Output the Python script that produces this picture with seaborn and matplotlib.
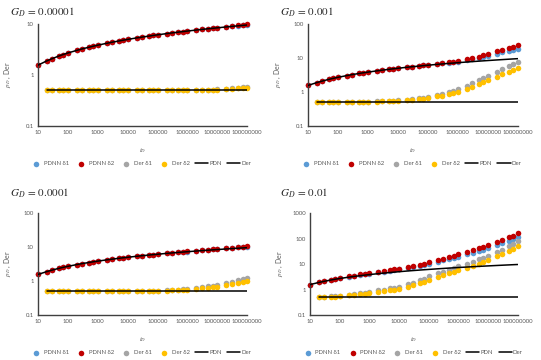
import matplotlib
matplotlib.use("Agg")
import matplotlib.pyplot as plt
import seaborn as sns

# dimensionless time (same sampling for every panel)
T = [10, 20, 30, 50, 70,
     100, 200, 300, 500, 700,
     1e3, 2e3, 3e3, 5e3, 7e3,
     1e4, 2e4, 3e4, 5e4, 7e4,
     1e5, 2e5, 3e5, 5e5, 7e5,
     1e6, 2e6, 3e6, 5e6, 7e6,
     1e7, 2e7, 3e7, 5e7, 7e7,
     1e8]
T_DER = T[1:]

# reference solutions (black lines)
PDN = [1.56, 1.90, 2.10, 2.36, 2.53,
       2.71, 3.05, 3.26, 3.51, 3.68,
       3.86, 4.20, 4.41, 4.66, 4.83,
       5.01, 5.36, 5.56, 5.81, 5.98,
       6.16, 6.51, 6.71, 6.97, 7.13,
       7.31, 7.66, 7.86, 8.12, 8.28,
       8.46, 8.81, 9.01, 9.27, 9.44,
       9.61]
DER_T = [20, 1e8]
DER_V = [0.5, 0.5]

# ---- G_D = 0.00001 ----
G1_PDNN_D1 = [1.56, 1.90, 2.10, 2.36, 2.53,
              2.71, 3.05, 3.26, 3.51, 3.68,
              3.86, 4.20, 4.41, 4.66, 4.83,
              5.01, 5.36, 5.56, 5.81, 5.98,
              6.16, 6.51, 6.71, 6.97, 7.14,
              7.32, 7.68, 7.89, 8.16, 8.33,
              8.52, 8.89, 9.11, 9.39, 9.58,
              9.78]
G1_PDNN_D2 = [1.56, 1.90, 2.10, 2.36, 2.53,
              2.71, 3.05, 3.26, 3.51, 3.68,
              3.86, 4.20, 4.41, 4.66, 4.83,
              5.01, 5.36, 5.56, 5.81, 5.98,
              6.16, 6.51, 6.72, 6.98, 7.15,
              7.33, 7.70, 7.91, 8.18, 8.36,
              8.55, 8.93, 9.16, 9.45, 9.65,
              9.85]
G1_DER_D1 = [0.50, 0.50, 0.50, 0.50,
             0.50, 0.50, 0.50, 0.50, 0.50,
             0.50, 0.50, 0.50, 0.50, 0.50,
             0.50, 0.50, 0.50, 0.50, 0.50,
             0.50, 0.50, 0.50, 0.50, 0.50,
             0.505, 0.51, 0.51, 0.52, 0.52,
             0.53, 0.54, 0.55, 0.56, 0.57,
             0.58]
G1_DER_D2 = [0.50, 0.50, 0.50, 0.50,
             0.50, 0.50, 0.50, 0.50, 0.50,
             0.50, 0.50, 0.50, 0.50, 0.50,
             0.50, 0.50, 0.50, 0.50, 0.50,
             0.50, 0.50, 0.50, 0.50, 0.50,
             0.50, 0.505, 0.51, 0.51, 0.515,
             0.52, 0.53, 0.54, 0.55, 0.555,
             0.565]

# ---- G_D = 0.001 ----
G2_PDNN_D1 = [1.56, 1.90, 2.10, 2.36, 2.53,
              2.71, 3.05, 3.26, 3.52, 3.69,
              3.87, 4.21, 4.42, 4.68, 4.85,
              5.04, 5.40, 5.61, 5.88, 6.06,
              6.28, 6.70, 6.98, 7.32, 7.57,
              7.82, 8.65, 9.25, 10.1, 10.9,
              11.8, 13.5, 14.7, 16.2, 17.4,
              18.6]
G2_PDNN_D2 = [1.56, 1.90, 2.10, 2.36, 2.53,
              2.71, 3.05, 3.26, 3.52, 3.69,
              3.87, 4.22, 4.43, 4.69, 4.87,
              5.06, 5.43, 5.65, 5.93, 6.12,
              6.35, 6.80, 7.10, 7.50, 7.80,
              8.10, 9.10, 9.80, 11.0, 12.0,
              13.5, 15.8, 17.4, 19.8, 21.6,
              24.0]
G2_DER_D1 = [0.50, 0.50, 0.50, 0.50,
             0.50, 0.50, 0.51, 0.51, 0.52,
             0.52, 0.53, 0.54, 0.55, 0.56,
             0.57, 0.60, 0.62, 0.66, 0.69,
             0.73, 0.82, 0.89, 1.00, 1.10,
             1.22, 1.55, 1.80, 2.20, 2.55,
             3.00, 4.00, 4.70, 5.80, 6.70,
             7.60]
G2_DER_D2 = [0.50, 0.50, 0.50, 0.50,
             0.50, 0.50, 0.50, 0.51, 0.51,
             0.51, 0.52, 0.53, 0.54, 0.54,
             0.55, 0.57, 0.59, 0.62, 0.64,
             0.67, 0.74, 0.79, 0.87, 0.94,
             1.02, 1.25, 1.42, 1.70, 1.92,
             2.20, 2.85, 3.30, 4.00, 4.50,
             5.10]

# ---- G_D = 0.0001 ----
G3_PDNN_D1 = [1.56, 1.90, 2.10, 2.36, 2.53,
              2.71, 3.05, 3.26, 3.51, 3.68,
              3.86, 4.20, 4.41, 4.66, 4.83,
              5.02, 5.37, 5.57, 5.83, 6.00,
              6.19, 6.55, 6.76, 7.03, 7.21,
              7.40, 7.78, 8.00, 8.30, 8.50,
              8.70, 9.15, 9.42, 9.80, 10.05,
              10.4]
G3_PDNN_D2 = [1.56, 1.90, 2.10, 2.36, 2.53,
              2.71, 3.05, 3.26, 3.51, 3.68,
              3.86, 4.20, 4.41, 4.66, 4.83,
              5.02, 5.38, 5.58, 5.84, 6.02,
              6.20, 6.56, 6.78, 7.05, 7.23,
              7.43, 7.82, 8.05, 8.37, 8.58,
              8.80, 9.30, 9.60, 10.0, 10.3,
              10.7]
G3_DER_D1 = [0.50, 0.50, 0.50, 0.50,
             0.50, 0.50, 0.50, 0.50, 0.50,
             0.50, 0.50, 0.50, 0.50, 0.50,
             0.505, 0.51, 0.51, 0.515, 0.52,
             0.52, 0.53, 0.54, 0.56, 0.57,
             0.59, 0.63, 0.66, 0.70, 0.73,
             0.77, 0.87, 0.94, 1.05, 1.15,
             1.27]
G3_DER_D2 = [0.50, 0.50, 0.50, 0.50,
             0.50, 0.50, 0.50, 0.50, 0.50,
             0.50, 0.50, 0.50, 0.50, 0.50,
             0.50, 0.50, 0.505, 0.51, 0.51,
             0.51, 0.52, 0.53, 0.54, 0.55,
             0.56, 0.59, 0.61, 0.64, 0.66,
             0.69, 0.76, 0.81, 0.88, 0.94,
             1.00]

# ---- G_D = 0.01 ----
G4_PDNN_D1 = [1.56, 1.92, 2.13, 2.42, 2.60,
              2.80, 3.20, 3.42, 3.75, 3.98,
              4.25, 4.80, 5.10, 5.55, 5.85,
              6.20, 7.00, 7.60, 8.60, 9.40,
              10.5, 12.6, 14.0, 16.0, 17.6,
              19.5, 24.0, 27.5, 33.0, 37.0,
              43.0, 56.0, 66.0, 82.0, 95.0,
              112]
G4_PDNN_D2 = [1.56, 1.93, 2.15, 2.45, 2.63,
              2.85, 3.25, 3.50, 3.95, 4.20,
              4.50, 5.10, 5.45, 5.90, 6.20,
              6.60, 7.40, 8.10, 9.30, 10.3,
              11.8, 14.5, 16.3, 19.0, 21.0,
              24.0, 30.0, 35.0, 42.0, 48.0,
              56.0, 75.0, 90.0, 113, 132,
              160]
G4_DER_D1 = [0.52, 0.53, 0.55, 0.56,
             0.58, 0.63, 0.67, 0.72, 0.76,
             0.82, 0.92, 0.99, 1.10, 1.17,
             1.27, 1.60, 1.85, 2.30, 2.70,
             3.30, 4.30, 5.00, 6.10, 7.00,
             8.20, 10.5, 12.3, 15.2, 17.7,
             21.0, 30.0, 37.0, 50.0, 61.0,
             77.0]
G4_DER_D2 = [0.50, 0.51, 0.52, 0.53,
             0.55, 0.59, 0.62, 0.66, 0.69,
             0.74, 0.82, 0.87, 0.95, 1.00,
             1.07, 1.30, 1.48, 1.80, 2.05,
             2.40, 3.10, 3.60, 4.30, 4.90,
             5.60, 7.20, 8.40, 10.3, 11.9,
             14.3, 20.0, 24.5, 32.0, 39.0,
             49.0]

X_TICKS = [10, 100, 1000, 10000, 100000, 1000000, 10000000, 100000000]
X_LABELS = ["10", "100", "1000", "10000", "100000", "1000000",
            "10000000", "100000000"]

TITLES = ["0.00001", "0.001", "0.0001", "0.01"]
Y_MAX = [10, 100, 100, 1000]

BLUE = "#5B9BD5"
RED = "#C00000"
GREY = "#A5A5A5"
YELLOW = "#FFC000"
TXT = "#595959"

sns.set_style("white")
plt.rcParams["font.family"] = ["Lato", "DejaVu Sans"]
plt.rcParams["mathtext.fontset"] = "stix"

fig = plt.figure(figsize=(5.41, 3.6), dpi=100)

# axes boxes in figure fractions (left, bottom, width, height)
boxes = [(0.070, 0.650, 0.387, 0.283),
         (0.569, 0.650, 0.388, 0.283),
         (0.070, 0.125, 0.387, 0.283),
         (0.573, 0.125, 0.384, 0.283)]
title_pos = [(0.018, 0.965), (0.517, 0.965), (0.018, 0.463), (0.517, 0.463)]

panels = [
    (G1_PDNN_D1, G1_PDNN_D2, G1_DER_D1, G1_DER_D2),
    (G2_PDNN_D1, G2_PDNN_D2, G2_DER_D1, G2_DER_D2),
    (G3_PDNN_D1, G3_PDNN_D2, G3_DER_D1, G3_DER_D2),
    (G4_PDNN_D1, G4_PDNN_D2, G4_DER_D1, G4_DER_D2),
]

for i, (pd1, pd2, dd1, dd2) in enumerate(panels):
    ax = fig.add_axes(boxes[i])
    kw = dict(s=16, linewidth=0, ax=ax, clip_on=False, zorder=2)
    sns.scatterplot(x=T, y=pd1, color=BLUE, label="PDNN δ1", **kw)
    sns.scatterplot(x=T, y=pd2, color=RED, label="PDNN δ2", **kw)
    sns.scatterplot(x=T_DER, y=dd1, color=GREY, label="Der δ1", **kw)
    sns.scatterplot(x=T_DER, y=dd2, color=YELLOW, label="Der δ2", **kw)
    sns.lineplot(x=T, y=PDN, color="black", linewidth=1.1, label="PDN",
                 ax=ax, zorder=3)
    sns.lineplot(x=DER_T, y=DER_V, color="black", linewidth=1.1, label="Der",
                 ax=ax, zorder=3)

    ax.set_xscale("log")
    ax.set_yscale("log")
    ax.set_xlim(10, 1e8)
    ax.set_ylim(0.1, Y_MAX[i])
    ax.set_xticks(X_TICKS, X_LABELS)
    yt = [v for v in [0.1, 1, 10, 100, 1000] if v <= Y_MAX[i]]
    ax.set_yticks(yt, [f"{v:g}" for v in yt])
    ax.minorticks_off()
    ax.tick_params(length=0, labelsize=4.3, labelcolor=TXT, pad=3)
    sns.despine(ax=ax)
    for sp in ["left", "bottom"]:
        ax.spines[sp].set_color("#404040")
        ax.spines[sp].set_linewidth(1.0)

    ax.set_xlabel("$t_D$", fontsize=5, color=TXT)
    ax.set_ylabel("$p_D$ , Der", fontsize=5, color=TXT)
    ax.xaxis.set_label_coords(0.5, -0.2)
    ax.yaxis.set_label_coords(-0.12, 0.5)

    leg = ax.legend(loc="center", bbox_to_anchor=(0.49, -0.37), ncol=6,
                    frameon=False, fontsize=4.3, handlelength=2.2,
                    handletextpad=0.2, columnspacing=0.9, borderaxespad=0)
    for txt in leg.get_texts():
        txt.set_color(TXT)

    fig.text(title_pos[i][0], title_pos[i][1],
             "$G_D\\,=\\,$" + "$\\mathrm{" + TITLES[i] + "}$",
             fontsize=8, ha="left", va="center")

fig.savefig("out.png", dpi=100)
